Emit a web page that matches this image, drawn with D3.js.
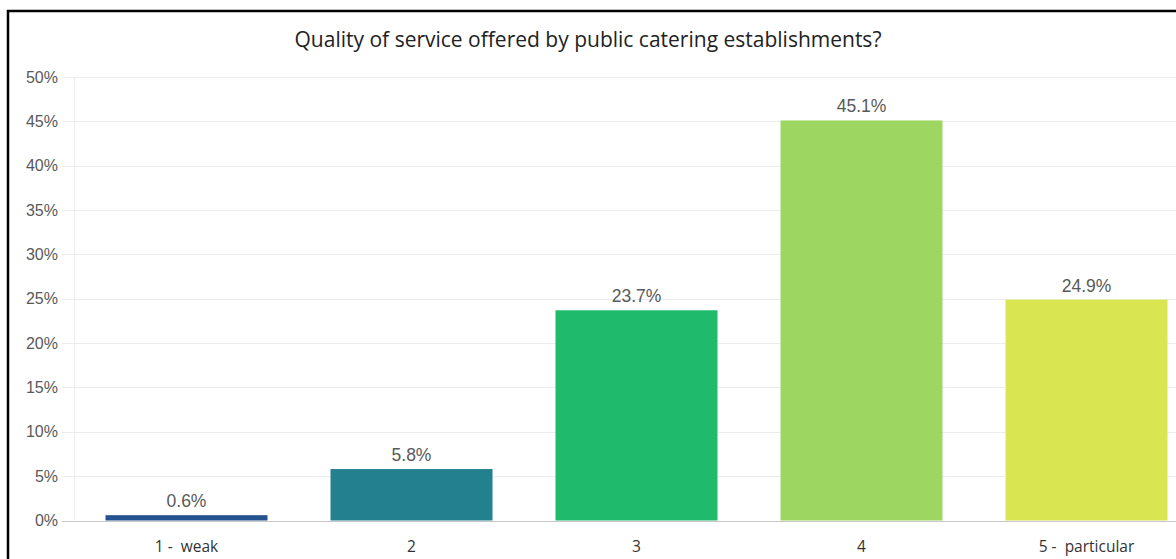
<!DOCTYPE html>
<html>
<head>
<meta charset="utf-8">
<script src="https://cdn.jsdelivr.net/npm/d3@7"></script>
<style>
  html, body { margin: 0; padding: 0; background: #fff; }
  svg { display: block; }
</style>
</head>
<body>
<svg id="chart" width="1176" height="559"></svg>
<script>
// Survey answers: rating categories and the share of respondents for each
const categories = ["1 -  weak", "2", "3", "4", "5 -  particular"];
const shares = [0.6, 5.8, 23.7, 45.1, 24.9];
const barColors = ["#24538f", "#23808f", "#1fba6c", "#9dd762", "#d9e651"];
const yTicks = [0, 5, 10, 15, 20, 25, 30, 35, 40, 45, 50];
const title = "Quality of service offered by public catering establishments?";

const svg = d3.select("#chart");
const W = 1176, H = 559;

// frame around the chart (bottom and right edges fall outside the view)
svg.append("rect")
  .attr("x", 8).attr("y", 11)
  .attr("width", 1300).attr("height", 600)
  .attr("fill", "#fff")
  .attr("stroke", "#000").attr("stroke-width", 2.5);

const plotLeft = 74, plotRight = 1199, plotTop = 77, plotBottom = 520.5;

const x = d3.scaleBand()
  .domain(categories)
  .range([plotLeft, plotRight])
  .paddingInner(0.28)
  .paddingOuter(0.14);

const y = d3.scaleLinear()
  .domain([0, 50])
  .range([plotBottom, plotTop]);

// horizontal gridlines
svg.append("g")
  .selectAll("line")
  .data(yTicks)
  .join("line")
  .attr("x1", 62).attr("x2", W)
  .attr("y1", d => Math.round(y(d)) + 0.5)
  .attr("y2", d => Math.round(y(d)) + 0.5)
  .attr("stroke", d => d === 0 ? "#c8c8c8" : "#ececec")
  .attr("stroke-width", 1);

// vertical axis line
svg.append("line")
  .attr("x1", plotLeft + 0.5).attr("x2", plotLeft + 0.5)
  .attr("y1", y(50)).attr("y2", plotBottom)
  .attr("stroke", "#ececec");

// y tick labels
const yAxis = d3.axisLeft(y)
  .tickValues(yTicks)
  .tickFormat(d => d + "%")
  .tickSize(0)
  .tickPadding(0);
const gy = svg.append("g")
  .attr("transform", `translate(58,0)`)
  .call(yAxis);
gy.select(".domain").remove();
gy.selectAll("text")
  .attr("fill", "#595959")
  .style("font-family", "'Liberation Sans', Arial, sans-serif")
  .style("font-size", "16px");

// bars
svg.append("g")
  .selectAll("rect")
  .data(shares)
  .join("rect")
  .attr("x", (d, i) => x(categories[i]))
  .attr("width", x.bandwidth())
  .attr("y", d => y(d))
  .attr("height", d => plotBottom - y(d))
  .attr("fill", (d, i) => barColors[i]);

// value labels above bars
svg.append("g")
  .selectAll("text")
  .data(shares)
  .join("text")
  .attr("x", (d, i) => x(categories[i]) + x.bandwidth() / 2)
  .attr("y", d => y(d) - 8)
  .attr("text-anchor", "middle")
  .attr("fill", "#595959")
  .style("font-family", "'Liberation Sans', Arial, sans-serif")
  .style("font-size", "17.5px")
  .text(d => d.toFixed(1) + "%");

// category labels
const xAxis = d3.axisBottom(x).tickSize(0).tickPadding(0);
const gx = svg.append("g")
  .attr("transform", `translate(0,${plotBottom + 20})`)
  .call(xAxis);
gx.select(".domain").remove();
gx.selectAll("text")
  .attr("fill", "#333")
  .style("font-family", "'Open Sans', 'Noto Sans', sans-serif")
  .style("font-size", "15.5px")
  .style("white-space", "pre")
  .attr("xml:space", "preserve");

// title
svg.append("text")
  .attr("x", 588)
  .attr("y", 47)
  .attr("text-anchor", "middle")
  .attr("fill", "#222")
  .style("font-family", "'Open Sans', 'Noto Sans', sans-serif")
  .style("font-size", "21px")
  .text(title);
</script>
</body>
</html>
